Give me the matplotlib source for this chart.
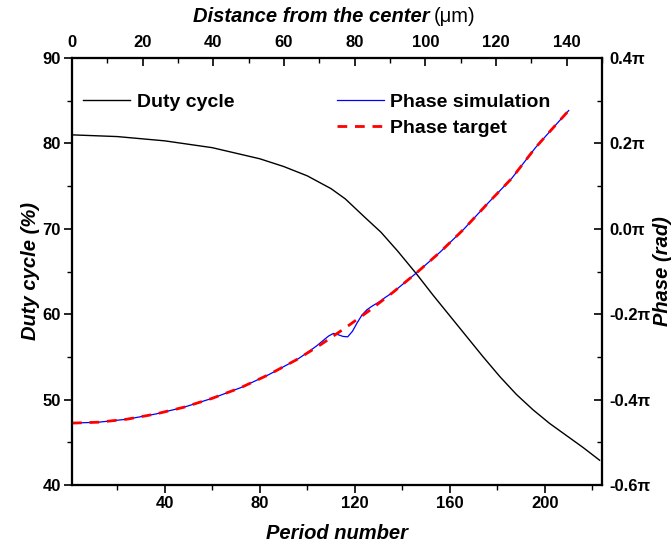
import matplotlib
matplotlib.use("Agg")
import matplotlib.pyplot as plt
from matplotlib.ticker import MultipleLocator, FuncFormatter
from matplotlib.lines import Line2D

plt.rcParams['font.family'] = ['Liberation Sans', 'DejaVu Sans']

# ---- data ----
duty_period = [1, 20, 40, 60, 80, 90, 100, 110, 116, 124, 131, 138, 146, 153,
               160, 167, 174, 181, 188, 195, 202, 209, 216, 223]
duty_cycle = [81.0, 80.8, 80.3, 79.5, 78.2, 77.3, 76.2, 74.7, 73.5, 71.4, 69.6,
              67.4, 64.7, 62.2, 59.8, 57.4, 55.0, 52.7, 50.6, 48.8, 47.2, 45.8,
              44.4, 42.9]

target_period = [1, 12, 24, 36, 48, 60, 72, 84, 96, 106, 116, 126, 136, 146,
                 156, 166, 176, 186, 196, 204, 210]
target_phase = [-0.455, -0.453, -0.446, -0.434, -0.418, -0.397, -0.372, -0.341,
                -0.305, -0.270, -0.232, -0.192, -0.149, -0.103, -0.054, 0.000,
                0.060, 0.118, 0.190, 0.240, 0.277]   # units of pi

sim_period = [1, 12, 24, 36, 48, 60, 72, 84, 96, 100, 104, 107, 109, 111, 113,
              115, 117, 119, 121, 123, 125, 127, 130, 133, 136, 146, 156, 166,
              176, 186, 196, 204, 210]
sim_phase = [-0.455, -0.453, -0.446, -0.434, -0.418, -0.397, -0.372, -0.341,
             -0.305, -0.290, -0.274, -0.260, -0.251, -0.245, -0.248, -0.252,
             -0.253, -0.240, -0.220, -0.202, -0.190, -0.182, -0.172, -0.160,
             -0.149, -0.103, -0.054, 0.000, 0.060, 0.118, 0.190, 0.240, 0.277]

bottom_ticks = [40, 80, 120, 160, 200]
top_ticks = [0, 20, 40, 60, 80, 100, 120, 140]
left_ticks = [40, 50, 60, 70, 80, 90]
right_ticks = [-0.6, -0.4, -0.2, 0.0, 0.2, 0.4]

fig = plt.figure(figsize=(6.71, 5.44), dpi=100)
ax = fig.add_axes([72/671, 1-485/544, 530/671, 427/544])
ax2 = ax.twinx()
ax3 = ax.twiny()

TS = 12
label_font = dict(fontsize=14.5, fontweight='bold', fontstyle='italic')

ax.plot(duty_period, duty_cycle, color='black', lw=1.0)
ax.set_xlim(1, 224)
ax.set_ylim(40, 90)
ax.set_xticks(bottom_ticks)
ax.xaxis.set_minor_locator(MultipleLocator(20))
ax.set_yticks(left_ticks)
ax.yaxis.set_minor_locator(MultipleLocator(5))
ax.tick_params(axis='both', which='major', direction='out', length=6, width=1.2, labelsize=TS, pad=2)
ax.tick_params(axis='both', which='minor', direction='out', length=3.5, width=1.0)
for lab in ax.get_xticklabels() + ax.get_yticklabels():
    lab.set_fontweight('bold')
ax.set_xlabel('Period number', labelpad=9, **label_font)
ax.set_ylabel('Duty cycle (%)', labelpad=2, **label_font)

ax2.plot(sim_period, sim_phase, color='#0000ff', lw=0.9)
ax2.plot(target_period, target_phase, color='#ff0000', lw=2.0, dashes=(3.5, 2.8))
ax2.set_ylim(-0.6, 0.4)
ax2.set_yticks(right_ticks)
ax2.yaxis.set_minor_locator(MultipleLocator(0.1))
ax2.yaxis.set_major_formatter(FuncFormatter(lambda v, p: f"{v:.1f}\u03c0".replace('-0.0', '0.0')))
ax2.tick_params(axis='y', which='major', direction='in', length=6, width=1.2, labelsize=TS, pad=5)
ax2.tick_params(axis='y', which='minor', direction='in', length=3.5, width=1.0)
for lab in ax2.get_yticklabels():
    lab.set_fontweight('bold')
ax2.set_ylabel('Phase (rad)', labelpad=2, **label_font)

ax3.set_xlim(0, 150)
ax3.set_xticks(top_ticks)
ax3.xaxis.set_minor_locator(MultipleLocator(10))
ax3.tick_params(axis='x', which='major', direction='in', length=6, width=1.2, labelsize=TS, pad=6)
ax3.tick_params(axis='x', which='minor', direction='in', length=3.5, width=1.0)
for lab in ax3.get_xticklabels():
    lab.set_fontweight('bold')

fig.text(430/671, 1-16/544, 'Distance from the center', ha='right', va='center', **label_font)
fig.text(434/671, 1-16/544, '(\u03bcm)', ha='left', va='center', fontsize=14.5)

for a in (ax, ax2, ax3):
    for s in a.spines.values():
        s.set_linewidth(1.5)

# legends
h1 = [Line2D([], [], color='black', lw=1.0)]
ax.legend(h1, ['Duty cycle'], loc='upper left', bbox_to_anchor=(0.021, 0.918),
          frameon=False, prop=dict(size=14, weight='bold'), handlelength=2.4,
          handletextpad=0.35, borderaxespad=0, borderpad=0)
h2 = [Line2D([], [], color='#0000ff', lw=0.9),
      Line2D([], [], color='#ff0000', lw=2.0, dashes=(3.5, 2.8))]
ax2.legend(h2, ['Phase simulation', 'Phase target'], loc='upper left',
           bbox_to_anchor=(0.5, 0.918), frameon=False,
           prop=dict(size=14, weight='bold'), handlelength=2.4,
           handletextpad=0.35, borderaxespad=0, borderpad=0, labelspacing=0.45)

fig.savefig('out.png', dpi=100)
